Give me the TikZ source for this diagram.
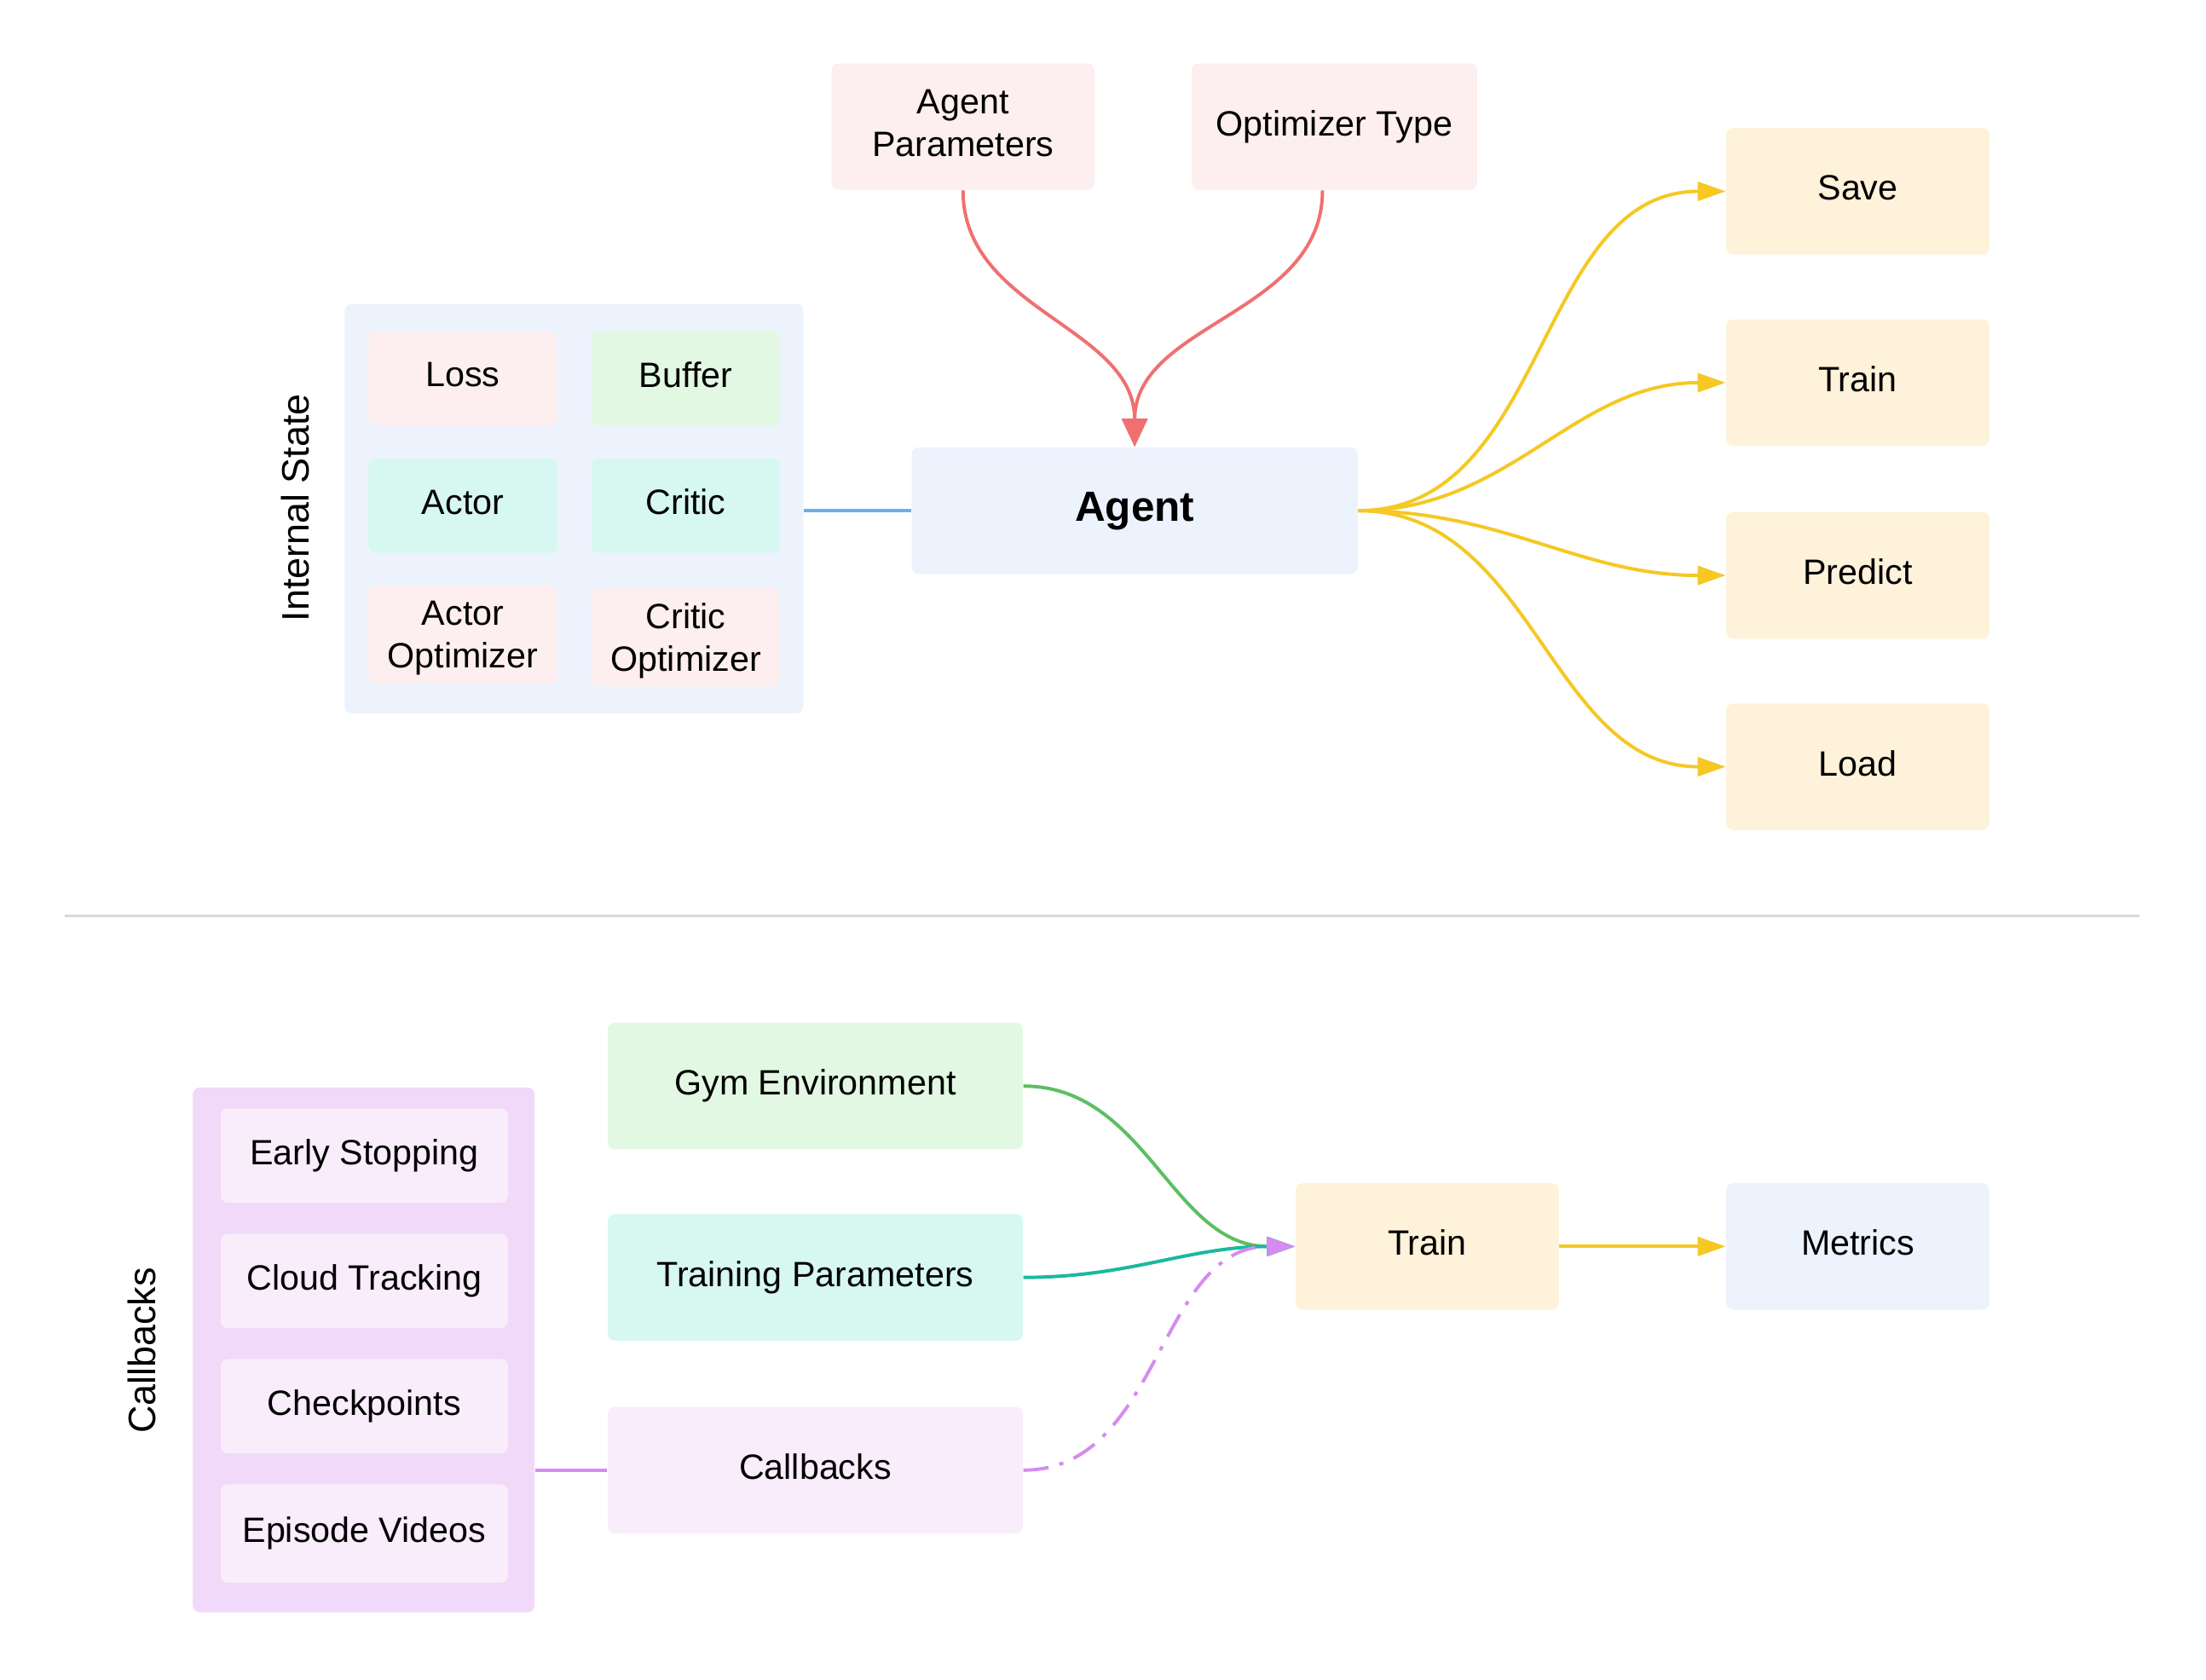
\documentclass[tikz,border=0pt]{standalone}
\usepackage{fontspec}
\setmainfont{Liberation Sans}
\usetikzlibrary{arrows.meta}
\definecolor{pinkF}{HTML}{FDEFEF}
\definecolor{greenF}{HTML}{E2F8E2}
\definecolor{tealF}{HTML}{D6F8F1}
\definecolor{blueF}{HTML}{ECF3FD}
\definecolor{yellowF}{HTML}{FEF2DA}
\definecolor{purpleC}{HTML}{F1D9FA}
\definecolor{purpleF}{HTML}{F9EDFC}
\definecolor{redL}{HTML}{F07070}
\definecolor{yellowL}{HTML}{F5C823}
\definecolor{blueL}{HTML}{6AAEF0}
\definecolor{greenL}{HTML}{5CBF62}
\definecolor{tealL}{HTML}{1BB8A0}
\definecolor{purpleL}{HTML}{D58BF0}
\definecolor{sepL}{HTML}{D9D9D9}
\newcommand\fnt{\fontsize{12.5}{15}\selectfont}
\newcommand\lfnt{\fontsize{13.6}{16}\selectfont}
\tikzset{
  box/.style={rounded corners=2.5pt, inner sep=0pt, align=center, font=\fnt, draw=none, text depth=2.7pt},
  bigbox/.style={box, minimum width=93.5pt, minimum height=45pt},
  cell/.style={box, minimum width=67pt, minimum height=33.5pt},
  cbcell/.style={box, minimum width=102pt, minimum height=33.5pt, fill=purpleF},
  wide/.style={box, minimum width=147.5pt, minimum height=45pt},
  grp/.style={rounded corners=2.5pt, inner sep=0pt, draw=none},
  vlabel/.style={rotate=90, font=\lfnt, inner sep=0pt},
  conn/.style={line width=1.2pt},
  ytip/.style={-{Triangle[length=10pt,width=6.7pt]}},
}
\begin{document}
\begin{tikzpicture}[x=0.5pt,y=-0.5pt]
\useasboundingbox (0,0) rectangle (1568,1194);
% ---- top section ----
\node[bigbox, fill=pinkF] (ap) at (684.5,90) {Agent\\Parameters};
\node[box, fill=pinkF, minimum width=101.5pt, minimum height=45pt] (ot) at (948.5,90) {Optimizer Type};
\node[box, fill=blueF, minimum width=158.5pt, minimum height=45pt, font=\fontsize{15}{18}\selectfont\bfseries] (agent) at (806.5,363) {Agent};
\node[bigbox, fill=yellowF] (save) at (1320.5,136) {Save};
\node[bigbox, fill=yellowF] (trainA) at (1320.5,272) {Train};
\node[bigbox, fill=yellowF] (predict) at (1320.5,409) {Predict};
\node[bigbox, fill=yellowF] (load) at (1320.5,545) {Load};
\node[grp, fill=blueF, minimum width=163pt, minimum height=145.5pt] (istate) at (408,361.5) {};
\node[vlabel] (istatelbl) at (210,361) {Internal State};
\node[cell, fill=pinkF] (loss) at (329,269) {Loss};
\node[cell, fill=greenF] (buffer) at (487.5,269) {Buffer};
\node[cell, fill=tealF] (actor) at (329,359.5) {Actor};
\node[cell, fill=tealF] (critic) at (487.5,359.5) {Critic};
\node[cell, fill=pinkF, minimum height=35pt, text depth=0pt] (aopt) at (329,451) {Actor\\Optimizer};
\node[cell, fill=pinkF, minimum height=35pt, text depth=0pt] (copt) at (487.5,453) {Critic\\Optimizer};
\draw[conn, blueL] (istate.east |- agent.west) -- (agent.west);
\draw[conn, redL, -{Triangle[length=10pt,width=9pt]}] (ap.south) to[out=-90,in=90] (agent.north);
\draw[conn, redL, -{Triangle[length=10pt,width=9pt]}] ([xshift=-4.25pt]ot.south) to[out=-90,in=90] (agent.north);
\foreach \t in {save,trainA,predict,load}
  \draw[conn, yellowL, ytip] (agent.east) to[out=0,in=180] (\t.west);
% ---- separator ----
\coordinate (sepa) at (46,651);
\coordinate (sepb) at (1521,651);
\draw[sepL, line width=1pt] (sepa) -- (sepb);
% ---- bottom section ----
\node[grp, fill=purpleC, minimum width=121.5pt, minimum height=186.5pt] (cbc) at (258.5,959.5) {};
\node[vlabel] (cblbl) at (101,960) {Callbacks};
\node[cbcell] (es) at (259,821.5) {Early Stopping};
\node[cbcell] (ct) at (259,910.5) {Cloud Tracking};
\node[cbcell] (cp) at (259,999.5) {Checkpoints};
\node[cbcell, minimum height=35pt] (ev) at (259,1090) {Episode Videos};
\node[wide, fill=greenF] (gym) at (579.5,772) {Gym Environment};
\node[wide, fill=tealF] (tp) at (579.5,908) {Training Parameters};
\node[wide, fill=purpleF] (cb) at (579.5,1045) {Callbacks};
\node[bigbox, fill=yellowF] (trainB) at (1014.5,886) {Train};
\node[bigbox, fill=blueF] (metrics) at (1320.5,886) {Metrics};
\draw[conn, purpleL] (cbc.east |- cb.west) -- (cb.west);
\draw[conn, greenL, ytip] (gym.east) to[out=0,in=180] (trainB.west);
\draw[conn, tealL, ytip] (tp.east) to[out=0,in=180] (trainB.west);
\draw[conn, purpleL, ytip, dash pattern=on 9pt off 4pt on 1.5pt off 4pt] (cb.east) to[out=0,in=180] (trainB.west);
\draw[conn, yellowL, ytip] (trainB.east) -- (metrics.west);
\end{tikzpicture}
\end{document}
